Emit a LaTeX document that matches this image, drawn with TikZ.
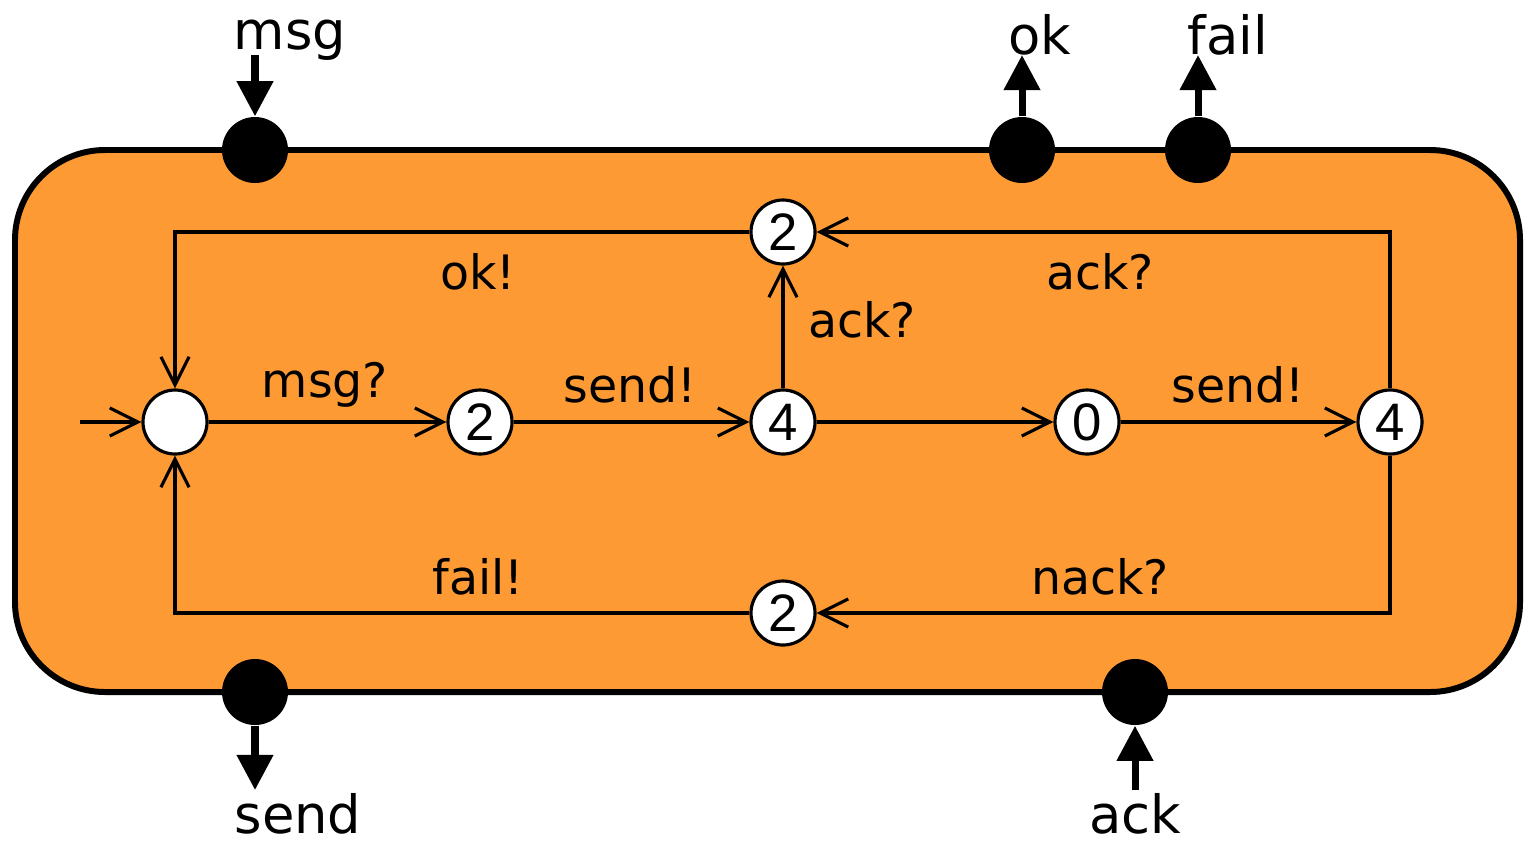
\documentclass[tikz,border=0pt]{standalone}
\usepackage{fontspec}
\setmainfont{DejaVu Sans}
\newfontfamily\digitfont{Liberation Sans}
\usetikzlibrary{arrows.meta}
\definecolor{boxorange}{RGB}{253,154,52}

\begin{document}
\begin{tikzpicture}[
  state/.style={circle,draw,line width=0.9pt,fill=white,minimum size=0.64cm,inner sep=0pt,font=\digitfont\fontsize{15}{15}\selectfont},
  port/.style={circle,fill=black,minimum size=0.66cm,inner sep=0pt},
  trans/.style={line width=0.9pt,-{Straight Barb[length=8pt,width=8pt]}},
  portarrow/.style={line width=2pt,-{Triangle[length=10pt,width=10pt]}},
  lbl/.style={font=\fontsize{13.5}{13.5}\selectfont},
  portlbl/.style={font=\fontsize{15}{15}\selectfont},
]
\useasboundingbox (0,0) rectangle (15.28,-8.51);

% the component box
\draw[line width=1.7pt,fill=boxorange,rounded corners=0.9cm] (0.15,-1.5) rectangle (15.2,-6.92);

% ports
\node[port] (pmsg) at (2.55,-1.5) {};
\node[port] (pok) at (10.22,-1.5) {};
\node[port] (pfail) at (11.98,-1.5) {};
\node[port] (psend) at (2.55,-6.92) {};
\node[port] (pack) at (11.35,-6.92) {};

\node[portlbl] (lmsg) at (2.9,-0.4) {msg};
\node[portlbl] (lok) at (10.4,-0.35) {ok};
\node[portlbl] (lfail) at (12.28,-0.35) {fail};
\node[portlbl] (lsend) at (2.98,-8.14) {send};
\node[portlbl] (lack) at (11.35,-8.14) {ack};

\coordinate (cmsg) at (2.55,-0.55);
\coordinate (cok) at (10.22,-0.55);
\coordinate (cfail) at (11.98,-0.55);
\coordinate (csend) at (2.55,-7.9);
\coordinate (cack) at (11.35,-7.9);

\draw[portarrow] (cmsg) -- (pmsg.north);
\draw[portarrow] (pok.north) -- (cok);
\draw[portarrow] (pfail.north) -- (cfail);
\draw[portarrow] (psend.south) -- (csend);
\draw[portarrow] (cack) -- (pack.south);

% states
\node[state] (s0) at (1.75,-4.22) {};
\node[state] (s1) at (4.8,-4.22) {2};
\node[state] (s2) at (7.83,-4.22) {4};
\node[state] (s3) at (10.87,-4.22) {0};
\node[state] (s4) at (13.9,-4.22) {4};
\node[state] (s5) at (7.83,-2.32) {2};
\node[state] (s6) at (7.83,-6.13) {2};
\coordinate (start) at (0.8,-4.22);

% transitions
\draw[trans] (start) -- (s0);
\draw[trans] (s0) -- (s1);
\draw[trans] (s1) -- (s2);
\draw[trans] (s2) -- (s3);
\draw[trans] (s3) -- (s4);
\draw[trans] (s2) -- (s5);
\draw[trans] (s4) |- (s5);
\draw[trans] (s4) |- (s6);
\draw[trans] (s5) -| (s0);
\draw[trans] (s6) -| (s0);

\node[lbl] (t01) at (3.25,-3.85) {msg?};
\node[lbl] (t12) at (6.3,-3.85) {send!};
\node[lbl] (t34) at (12.38,-3.85) {send!};
\node[lbl] (t25) at (8.62,-3.2) {ack?};
\node[lbl] (t45) at (11.0,-2.72) {ack?};
\node[lbl] (t50) at (4.78,-2.72) {ok!};
\node[lbl] (t46) at (11.0,-5.77) {nack?};
\node[lbl] (t60) at (4.78,-5.77) {fail!};
\end{tikzpicture}
\end{document}
